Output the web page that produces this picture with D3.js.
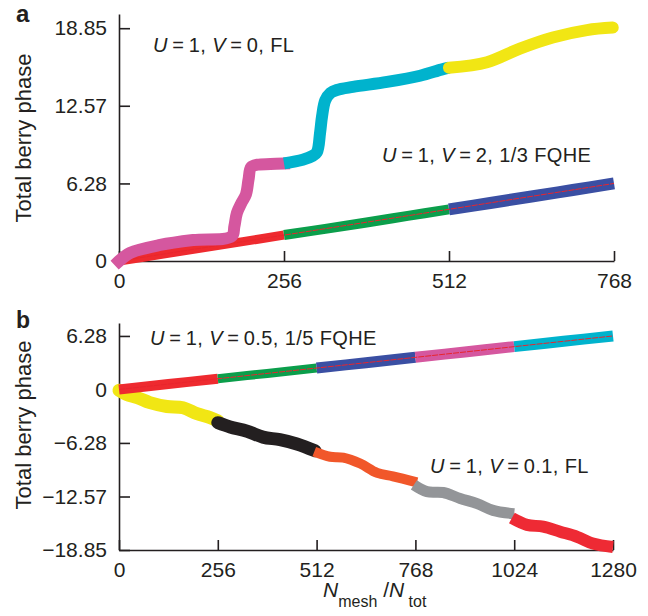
<!DOCTYPE html>
<html>
<head>
<meta charset="utf-8">
<script src="https://cdn.jsdelivr.net/npm/d3@7"></script>
<style>
  body { margin: 0; background: #fff; }
  text { font-family: "Liberation Sans", Arial, sans-serif; fill: #231f20; }
  .axis path, .axis line { stroke: #231f20; stroke-width: 1.6; }
  .axis text { font-size: 21px; }
</style>
</head>
<body>
<div id="chart"></div>
<script>
// Ticks
const xTicksA = [0, 256, 512, 768]
const yTicksA = [0, 6.28, 12.57, 18.85]
const yLabelsA = ['0', '6.28', '12.57', '18.85']
const xTicksB = [0, 256, 512, 768, 1024, 1280]
const yTicksB = [-18.85, -12.57, -6.28, 0, 6.28]
const yLabelsB = ['\u221218.85', '\u221212.57', '\u22126.28', '0', '6.28']

// Panel a: U=1, V=0, FL  [N, phase]
const aFlPink = [[0, 0], [17, 0.65], [64, 1.3], [115, 1.7], [175, 2.0], [179, 2.8], [183, 3.9], [190, 4.7], [197, 5.4], [201, 6.6], [205, 7.6], [215, 7.8], [235, 7.85], [256, 7.9]]
const aFlCyan = [[256, 7.9], [285, 8.2], [300, 8.5], [307, 8.8], [312, 10.4], [315, 11.7], [320, 13.0], [328, 13.6], [338, 13.85], [363, 14.1], [416, 14.5], [467, 15.0], [500, 15.5], [512, 15.65]]
const aFlYellow = [[512, 15.65], [571, 16.1], [622, 17.2], [673, 18.1], [726, 18.7], [766, 18.9]]

// Panel a: U=1, V=2, 1/3 FQHE
const aFqRed = [[0, 0], [64, 0.52], [128, 1.05], [192, 1.57], [256, 2.1]]
const aFqGreen = [[256, 2.1], [320, 2.6], [384, 3.12], [448, 3.65], [512, 4.18]]
const aFqBlue = [[512, 4.18], [576, 4.7], [640, 5.22], [704, 5.75], [768, 6.28]]
const aFqFit = [[0, 0], [768, 6.28]]

// Panel b: U=1, V=0.5, 1/5 FQHE
const bFqRed = [[0, 0], [128, 0.63], [256, 1.26]]
const bFqGreen = [[256, 1.26], [384, 1.88], [512, 2.51]]
const bFqBlue = [[512, 2.51], [640, 3.14], [768, 3.77]]
const bFqPink = [[768, 3.77], [896, 4.4], [1024, 5.03]]
const bFqCyan = [[1024, 5.03], [1152, 5.65], [1280, 6.28]]
const bFqFit = [[0, 0], [1280, 6.28]]

// Panel b: U=1, V=0.1, FL
const bFlYellow = [[0, -0.1], [20, -0.6], [47, -0.95], [80, -1.55], [124, -2.0], [166, -2.15], [202, -2.85], [236, -3.3], [256, -3.7]]
const bFlBlack = [[256, -3.9], [288, -4.4], [332, -4.9], [373, -5.6], [417, -5.9], [461, -6.4], [508, -7.2]]
const bFlOrange = [[506, -7.3], [547, -7.9], [581, -8.0], [625, -8.7], [669, -9.8], [710, -10.2], [772, -10.9]]
const bFlGray = [[764, -11.2], [798, -12.0], [840, -12.1], [884, -12.8], [928, -13.4], [969, -14.2], [1024, -14.6]]
const bFlRed = [[1018, -15.1], [1057, -15.9], [1099, -16.1], [1143, -16.7], [1187, -17.3], [1228, -18.1], [1280, -18.5]]

const width = 648
const height = 616

const svg = d3.select('#chart').append('svg')
    .attr('width', width)
    .attr('height', height)

// Scales
const xA = d3.scaleLinear().domain([0, 768]).range([119, 614])
const yA = d3.scaleLinear().domain([0, 20]).range([261, 14])
const xB = d3.scaleLinear().domain([0, 1280]).range([119, 613])
const yB = d3.scaleLinear().domain([-18.85, 7.8]).range([550, 323])

function drawAxes(x, y, xTicks, yTicks, yLabels) {
    svg.append('g')
        .attr('class', 'axis')
        .attr('transform', `translate(0, ${y.range()[0]})`)
        .call(d3.axisBottom(x).tickValues(xTicks).tickSizeInner(-10).tickSizeOuter(0).tickPadding(12).tickFormat(d3.format('d')))
    svg.append('g')
        .attr('class', 'axis')
        .attr('transform', `translate(${x.range()[0]}, 0)`)
        .call(d3.axisLeft(y).tickValues(yTicks).tickSizeInner(-11).tickSizeOuter(0).tickPadding(12).tickFormat((d, i) => yLabels[i]))
    svg.selectAll('.axis .domain').attr('fill', 'none')
}

function drawSeries(x, y, data, color, w, cap) {
    const line = d3.line()
        .x(d => x(d[0]))
        .y(d => y(d[1]))
        .curve(d3.curveCatmullRom)
    svg.append('path')
        .datum(data)
        .attr('d', line)
        .attr('fill', 'none')
        .attr('stroke', color)
        .attr('stroke-width', w)
        .attr('stroke-linecap', cap || 'butt')
        .attr('stroke-linejoin', 'round')
}

function drawFit(x, y, data) {
    svg.append('path')
        .datum(data)
        .attr('d', d3.line().x(d => x(d[0])).y(d => y(d[1])))
        .attr('stroke', '#e8252d')
        .attr('stroke-width', 1)
        .attr('stroke-dasharray', '6,1')
        .attr('fill', 'none')
}

// Panel a
drawAxes(xA, yA, xTicksA, yTicksA, yLabelsA)
drawSeries(xA, yA, aFqRed, '#ee2a2f', 9)
drawSeries(xA, yA, aFqGreen, '#0b9e4b', 10)
drawSeries(xA, yA, aFqBlue, '#3a4fa3', 12)
drawFit(xA, yA, aFqFit)
drawSeries(xA, yA, aFlPink, '#d5579f', 12, 'square')
drawSeries(xA, yA, aFlCyan, '#00b3cd', 12)
drawSeries(xA, yA, aFlYellow, '#f1e614', 12, 'round')

// Panel b
drawAxes(xB, yB, xTicksB, yTicksB, yLabelsB)
drawSeries(xB, yB, bFlYellow, '#f1e614', 13, 'round')
drawSeries(xB, yB, bFlBlack, '#231f20', 13, 'round')
drawSeries(xB, yB, bFlOrange, '#f1572a', 10)
drawSeries(xB, yB, bFlGray, '#939598', 11)
drawSeries(xB, yB, bFlRed, '#ee2a34', 12)
drawSeries(xB, yB, bFqRed, '#ee2a2f', 10)
drawSeries(xB, yB, bFqGreen, '#0b9e4b', 9)
drawSeries(xB, yB, bFqBlue, '#3a4fa3', 11)
drawSeries(xB, yB, bFqPink, '#d5579f', 11)
drawSeries(xB, yB, bFqCyan, '#00b3cd', 11)
drawFit(xB, yB, bFqFit)

// Annotations
function annot(xp, yp, parts) {
    const t = svg.append('text')
        .attr('x', xp)
        .attr('y', yp)
        .style('font-size', '20px')
        .style('letter-spacing', '0.4px')
    parts.forEach(p => {
        t.append('tspan')
            .style('font-style', p[1] ? 'italic' : 'normal')
            .text(p[0])
    })
}
const eq = '\u2009=\u2009'
annot(153, 52, [['U', 1], [eq + '1, ', 0], ['V', 1], [eq + '0, FL', 0]])
annot(382, 162, [['U', 1], [eq + '1, ', 0], ['V', 1], [eq + '2, 1/3 FQHE', 0]])
annot(150, 345, [['U', 1], [eq + '1, ', 0], ['V', 1], [eq + '0.5, 1/5 FQHE', 0]])
annot(430, 473, [['U', 1], [eq + '1, ', 0], ['V', 1], [eq + '0.1, FL', 0]])

// Panel letters
svg.append('text').attr('x', 16).attr('y', 22).style('font-size', '24px').style('font-weight', 'bold').text('a')
svg.append('text').attr('x', 16).attr('y', 328).style('font-size', '23px').style('font-weight', 'bold').text('b')

// Y titles
svg.append('text')
    .attr('transform', 'translate(31, 138) rotate(-90)')
    .attr('text-anchor', 'middle')
    .style('font-size', '22px')
    .text('Total berry phase')
svg.append('text')
    .attr('transform', 'translate(31, 425) rotate(-90)')
    .attr('text-anchor', 'middle')
    .style('font-size', '22px')
    .text('Total berry phase')

// X title
const xt = svg.append('text')
    .attr('x', 323)
    .attr('y', 597)
    .style('font-size', '21px')
xt.append('tspan').style('font-style', 'italic').text('N')
xt.append('tspan').style('font-size', '16px').attr('dy', 10).text('mesh')
xt.append('tspan').attr('dy', -10).text(' /')
xt.append('tspan').style('font-style', 'italic').text('N')
xt.append('tspan').style('font-size', '16px').attr('dy', 10).text(' tot')
</script>
</body>
</html>
